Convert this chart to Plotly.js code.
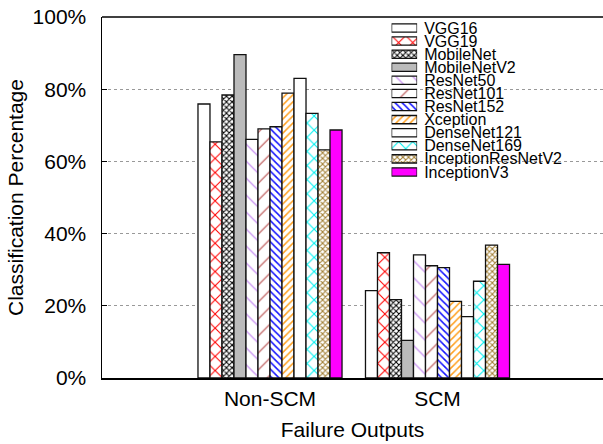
<!DOCTYPE html>
<html>
<head>
<meta charset="utf-8">
<script src="https://cdn.plot.ly/plotly-3.0.1.min.js"></script>
<style>html,body{margin:0;padding:0;background:#fff;}</style>
</head>
<body>
<div id="chart" style="width:603px;height:444px;"></div>
<script>
// ---- data ----
var categories = ['Non-SCM', 'SCM'];
var models = ['VGG16', 'VGG19', 'MobileNet', 'MobileNetV2', 'ResNet50', 'ResNet101',
              'ResNet152', 'Xception', 'DenseNet121', 'DenseNet169', 'InceptionResNetV2', 'InceptionV3'];
var nonScmValues = [75.9, 65.4, 78.4, 89.6, 66.1, 69.0, 69.6, 78.9, 83.0, 73.3, 63.2, 68.7];
var scmValues    = [24.2, 34.7, 21.7, 10.4, 34.1, 31.1, 30.6, 21.2, 17.0, 26.8, 36.8, 31.5];
var yTickVals = [0, 20, 40, 60, 80, 100];
var yTickText = ['0%', '20%', '40%', '60%', '80%', '100%'];

// ---- styles ----
var styles = [
  {color: '#ffffff', shape: ''},
  {color: '#ff0000', shape: 'x',  size: 10, sol: 0.2},
  {color: '#000000', shape: 'x',  size: 4,  sol: 0.45},
  {color: '#bbbbbb', shape: ''},
  {color: '#c080f0', shape: '\\', size: 12, sol: 0.1},
  {color: '#b85050', shape: '/',  size: 12, sol: 0.1},
  {color: '#1010ff', shape: '\\', size: 5,  sol: 0.3},
  {color: '#ffa020', shape: '/',  size: 5,  sol: 0.3},
  {color: '#ffffff', shape: ''},
  {color: '#00f0f0', shape: 'x',  size: 10, sol: 0.2},
  {color: '#a07c30', shape: 'x',  size: 4,  sol: 0.45},
  {color: '#ff00ff', shape: ''}
];

function markerFor(i) {
  var s = styles[i];
  var m = {color: s.color, line: {color: '#111111', width: 1.3}};
  if (s.shape) {
    m.color = '#ffffff';
    m.pattern = {shape: s.shape, fgcolor: s.color, bgcolor: '#ffffff', size: s.size, solidity: s.sol, fillmode: 'replace'};
  }
  return m;
}

var traces = [];
models.forEach(function (name, i) {
  traces.push({
    type: 'bar', name: name, x: categories, y: [nonScmValues[i], scmValues[i]],
    marker: markerFor(i), showlegend: false, hoverinfo: 'skip'
  });
});
// legend swatches drawn on a small helper subplot
models.forEach(function (name, i) {
  traces.push({
    type: 'bar', orientation: 'h', name: name, y: [name], x: [1], xaxis: 'x2', yaxis: 'y2',
    width: 0.63, offset: -0.315, offsetgroup: 'legend',
    marker: markerFor(i), showlegend: false, hoverinfo: 'skip'
  });
});

var font = {family: 'Liberation Sans, Arial, sans-serif', size: 21, color: '#000'};

var layout = {
  width: 603, height: 444,
  margin: {l: 102, r: 0, t: 17, b: 66},
  paper_bgcolor: '#fff', plot_bgcolor: '#fff',
  font: font,
  barmode: 'group', bargap: 0.14, bargroupgap: 0,
  showlegend: false,
  xaxis: {
    type: 'category', range: [-1.003, 1.988],
    showline: true, linecolor: '#000', linewidth: 1.5,
    ticks: '', showgrid: false, zeroline: false,
    tickfont: font, ticklabelstandoff: 1,
    title: {text: 'Failure Outputs', font: font, standoff: 13}
  },
  yaxis: {
    range: [0, 100], tickvals: yTickVals, ticktext: yTickText,
    showline: true, linecolor: '#000', linewidth: 1.5,
    ticks: 'inside', ticklen: 5, tickcolor: '#000',
    showgrid: true, gridcolor: '#999', griddash: 'dot', gridwidth: 1,
    zeroline: false, tickfont: font, ticklabelstandoff: 10,
    title: {text: 'Classification Percentage', font: font, standoff: 3}
  },
  xaxis2: {
    domain: [0.578, 0.629], range: [0, 1], anchor: 'y2',
    visible: false, fixedrange: true
  },
  yaxis2: {
    domain: [0.5526, 0.9877], anchor: 'x2', type: 'category',
    autorange: 'reversed', side: 'right',
    tickmode: 'array', tickvals: models, ticktext: models,
    showgrid: false, zeroline: false, showline: false, ticks: '',
    tickfont: {family: 'Liberation Sans, Arial, sans-serif', size: 16, color: '#000'},
    ticklabelstandoff: 6, fixedrange: true
  },
  shapes: [{
    type: 'line', xref: 'paper', yref: 'paper', x0: 0, x1: 1, y0: 1, y1: 1,
    line: {color: '#000', width: 1.5}, layer: 'above'
  }]
};

Plotly.newPlot('chart', traces, layout, {staticPlot: true, displayModeBar: false});
</script>
</body>
</html>
